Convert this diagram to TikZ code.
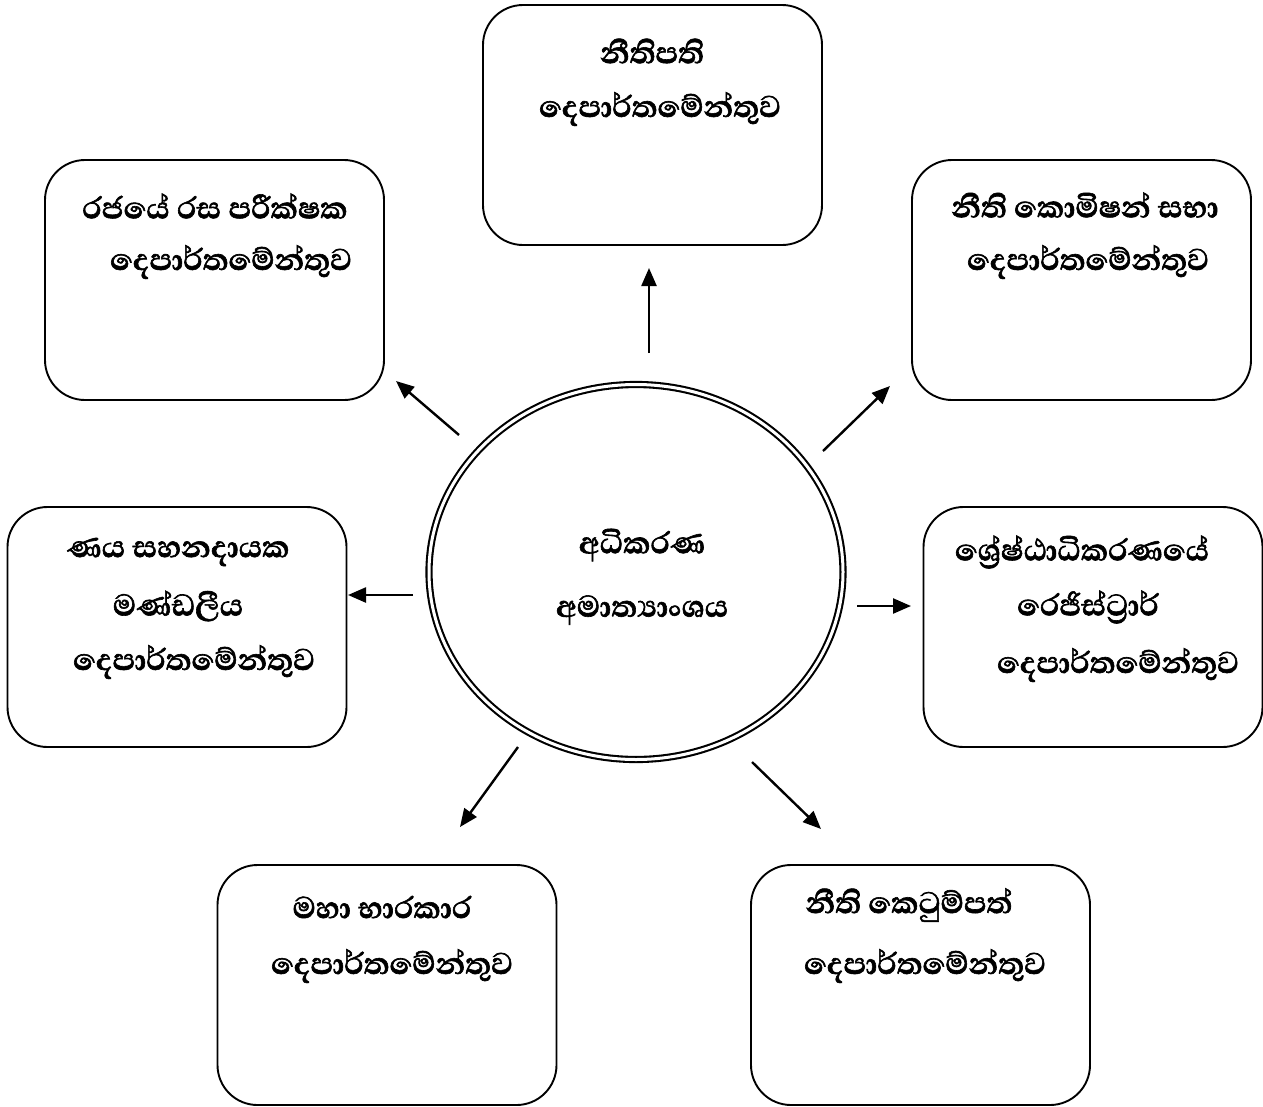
\documentclass[tikz,border=0pt]{standalone}
\usepackage{fontspec}
\newfontfamily\sinfont[Script=Sinhala,FakeBold=1.6]{Abhaya Libre}
\usetikzlibrary{arrows.meta,shapes.geometric}
\begin{document}
\begin{tikzpicture}[x=1pt,y=-1pt,
  dept/.style={draw, line width=1.9pt, rounded corners=40pt, minimum width=339pt, minimum height=240pt, inner sep=0pt},
  lbl/.style={font=\sinfont\bfseries\fontsize{38.5}{42}\selectfont, inner sep=0pt, anchor=center},
  arr/.style={line width=2.4pt, -{Triangle[length=18pt,width=15pt]}}]
\useasboundingbox (0,0) rectangle (1263,1106);
% boxes
\node[dept] (top) at (652.5,125) {};
\node[dept] (tl) at (214.5,280) {};
\node[dept] (tr) at (1081.5,280) {};
\node[dept] (lf) at (177,627) {};
\node[dept] (rt) at (1093,627) {};
\node[dept] (bl) at (387,985) {};
\node[dept] (br) at (920.5,985) {};
% centre ellipse
\node[ellipse, draw, line width=2.1pt, double, double distance=3pt, minimum width=414pt, minimum height=375pt, inner sep=0pt] (min) at (636,572) {};
% labels
\node[lbl] (t1) at (652,51) {නීතිපති};
\node[lbl] (t2) at (660,109) {දෙපාර්තමේන්තුව};
\node[lbl] (tl1) at (215,206) {රජයේ රස පරීක්ෂක};
\node[lbl] (tl2) at (231,262) {දෙපාර්තමේන්තුව};
\node[lbl] (tr1) at (1085,205) {නීති කොමිෂන් සභා};
\node[lbl] (tr2) at (1088,262) {දෙපාර්තමේන්තුව};
\node[lbl] (l1) at (178,552) {ණය සහනදායක};
\node[lbl] (l2) at (178,606) {මණ්ඩලීය};
\node[lbl] (l3) at (194,662) {දෙපාර්තමේන්තුව};
\node[lbl] (r1) at (1082,552) {ශ්‍රේෂ්ඨාධිකරණයේ};
\node[lbl] (r2) at (1088,607) {රෙජිස්ට්‍රාර්};
\node[lbl] (r3) at (1118,665) {දෙපාර්තමේන්තුව};
\node[lbl] (c1) at (642,545) {අධිකරණ};
\node[lbl] (c2) at (642,610) {අමාත්‍යාංශය};
\node[lbl] (bl1) at (382,907) {මහා භාරකාර};
\node[lbl] (bl2) at (392,966) {දෙපාර්තමේන්තුව};
\node[lbl] (br1) at (909,905) {නීති කෙටුම්පත්};
\node[lbl] (br2) at (925,966) {දෙපාර්තමේන්තුව};
% arrow end points
\coordinate (u0) at (649,353); \coordinate (u1) at (649,268);
\coordinate (a0) at (459,435); \coordinate (a1) at (396,381);
\coordinate (b0) at (823,451); \coordinate (b1) at (890,386);
\coordinate (c0) at (413,595); \coordinate (c1x) at (348,595);
\coordinate (d0) at (857,606); \coordinate (d1) at (911,606);
\coordinate (e0) at (518,747); \coordinate (e1) at (460,827);
\coordinate (f0) at (752,762); \coordinate (f1) at (821,829);
\draw[arr] (u0) -- (u1);
\draw[arr] (a0) -- (a1);
\draw[arr] (b0) -- (b1);
\draw[arr] (c0) -- (c1x);
\draw[arr] (d0) -- (d1);
\draw[arr] (e0) -- (e1);
\draw[arr] (f0) -- (f1);
\end{tikzpicture}
\end{document}
